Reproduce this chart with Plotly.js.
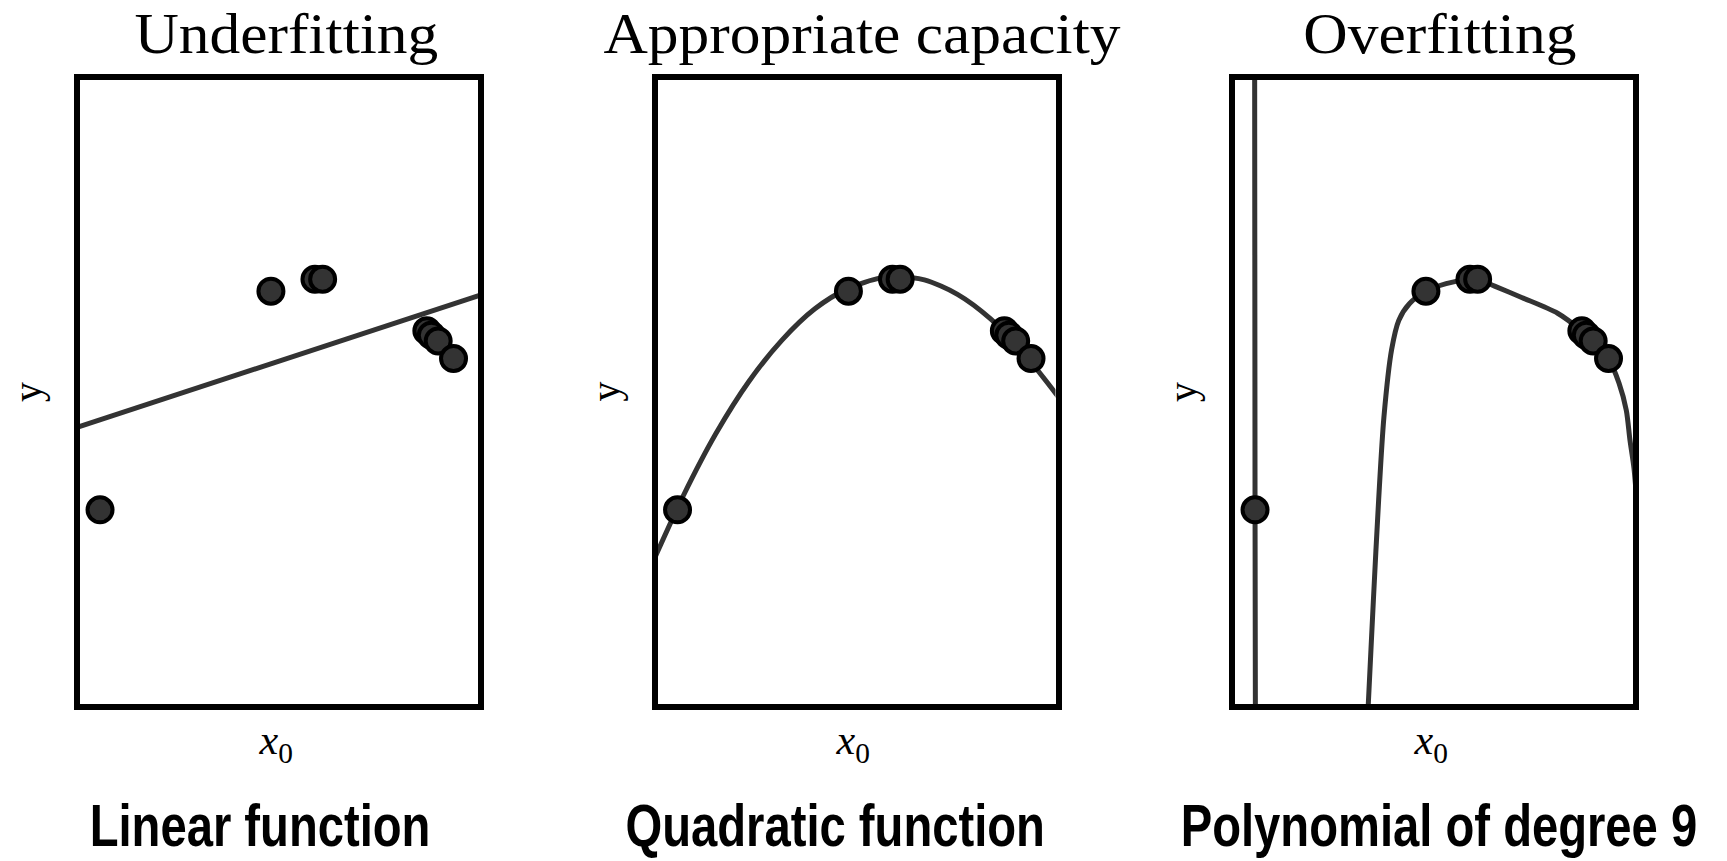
<!DOCTYPE html>
<html>
<head>
<meta charset="utf-8">
<script src="https://cdn.plot.ly/plotly-3.0.1.min.js"></script>
<style>
  html, body { margin: 0; padding: 0; background: #ffffff; }
  #chart { width: 1727px; height: 861px; }
</style>
</head>
<body>
<div id="chart"></div>
<script>
// ---------------- data (normalised units) ----------------
const panelTitles = ["Underfitting", "Appropriate capacity", "Overfitting"];
const panelCaptions = ["Linear function", "Quadratic function", "Polynomial of degree 9"];
const xLabel = "\u200A<i>x</i><sub>0</sub>";
const yLabel = "y";

// training points (same in all three panels)
const pointsX = [0.057, 0.480, 0.589, 0.608, 0.866, 0.877, 0.894, 0.932];
const pointsY = [0.313, 0.660, 0.679, 0.679, 0.597, 0.590, 0.581, 0.553];

// linear fit
const linearX = [0.0, 1.0];
const linearY = [0.444, 0.654];

// quadratic fit
const quadX = [0.0, 0.071, 0.152, 0.234, 0.315, 0.397, 0.478, 0.560, 0.601, 0.668, 0.750, 0.832, 0.913, 1.0];
const quadY = [0.236, 0.335, 0.434, 0.517, 0.582, 0.632, 0.664, 0.681, 0.683, 0.678, 0.655, 0.616, 0.562, 0.492];

// degree-9 polynomial fit: near-vertical branch through the first point
const poly9BranchAX = [0.056, 0.057, 0.058];
const poly9BranchAY = [1.05, 0.313, -0.05];
// second branch rising from the bottom and passing through the other points
const poly9BranchBX = [0.333, 0.337, 0.350, 0.363, 0.376, 0.395, 0.413, 0.439, 0.480, 0.530, 0.589, 0.608, 0.650, 0.717, 0.806, 0.866, 0.894, 0.932, 0.958, 0.976, 0.985, 0.995, 1.005];
const poly9BranchBY = [-0.05, 0.0, 0.170, 0.329, 0.460, 0.567, 0.614, 0.640, 0.660, 0.672, 0.679, 0.679, 0.668, 0.650, 0.625, 0.597, 0.581, 0.553, 0.514, 0.471, 0.424, 0.379, 0.300];

// ---------------- styling ----------------
const W = 1727, H = 861;
const px = v => v / W;          // pixel -> paper x
const py = v => 1 - v / H;      // pixel -> paper y

const curveColor = "#333333";
const curveWidth = 5;
const markerStyle = { size: 25, color: "#333333", line: { color: "#000000", width: 4 } };

// inner plot-area boxes (pixels)
const boxesX = [[80, 478], [657.5, 1055.5], [1235, 1633]];
const boxY = [80, 704];

const traces = [];
function lineTrace(x, y, ax) {
  return { x: x, y: y, xaxis: ax.x, yaxis: ax.y, mode: "lines", type: "scatter",
           line: { color: curveColor, width: curveWidth, shape: "spline", smoothing: 0.8 },
           hoverinfo: "skip", showlegend: false };
}
function pointsTrace(ax) {
  return { x: pointsX, y: pointsY, xaxis: ax.x, yaxis: ax.y, mode: "markers", type: "scatter",
           marker: markerStyle, showlegend: false };
}
const axes = [{ x: "x", y: "y" }, { x: "x2", y: "y2" }, { x: "x3", y: "y3" }];

traces.push(lineTrace(linearX, linearY, axes[0]));
traces.push(pointsTrace(axes[0]));
traces.push(lineTrace(quadX, quadY, axes[1]));
traces.push(pointsTrace(axes[1]));
traces.push(lineTrace(poly9BranchAX, poly9BranchAY, axes[2]));
traces.push(lineTrace(poly9BranchBX, poly9BranchBY, axes[2]));
traces.push(pointsTrace(axes[2]));

const frameAxis = (domain, range) => ({
  domain: domain, range: range, showline: true, mirror: true, linewidth: 6, linecolor: "#000000",
  showgrid: false, zeroline: false, showticklabels: false, ticks: "", fixedrange: true
});

const xRange = [0.0074, 0.9926];
const yRange = [0.005, 0.995];
const yDomain = [py(boxY[1]), py(boxY[0])];

const layout = {
  width: W, height: H, autosize: false,
  margin: { l: 0, r: 0, t: 0, b: 0, pad: 0 },
  paper_bgcolor: "#ffffff", plot_bgcolor: "#ffffff",
  showlegend: false,
  xaxis:  frameAxis([px(boxesX[0][0]), px(boxesX[0][1])], xRange),
  yaxis:  Object.assign(frameAxis(yDomain, yRange), { anchor: "x" }),
  xaxis2: Object.assign(frameAxis([px(boxesX[1][0]), px(boxesX[1][1])], xRange), { anchor: "y2" }),
  yaxis2: Object.assign(frameAxis(yDomain, yRange), { anchor: "x2" }),
  xaxis3: Object.assign(frameAxis([px(boxesX[2][0]), px(boxesX[2][1])], xRange), { anchor: "y3" }),
  yaxis3: Object.assign(frameAxis(yDomain, yRange), { anchor: "x3" }),
  annotations: []
};

const serif = "Liberation Serif, DejaVu Serif, serif";
const captionFont = "Liberation Sans, Arial, Roboto, sans-serif";
const captionSqueeze = 0.80;   // emulate a condensed bold face
const titleStretch = 1.06;     // emulate the wider Computer Modern face
const titleCenters = [286, 862, 1440];
const captionCenters = [260, 835, 1439];
const xLabelCenters = [274, 851.5, 1429];
const yLabelCenters = [27, 604.5, 1182];

for (let i = 0; i < 3; i++) {
  layout.annotations.push({
    text: panelTitles[i], xref: "paper", yref: "paper", x: px(titleCenters[i]), y: py(33),
    xanchor: "center", yanchor: "middle", showarrow: false,
    font: { family: serif, size: 58, color: "#000000" }
  });
  layout.annotations.push({
    text: xLabel, xref: "paper", yref: "paper", x: px(xLabelCenters[i]), y: py(743),
    xanchor: "center", yanchor: "middle", showarrow: false,
    font: { family: serif, size: 42, color: "#000000" }
  });
  layout.annotations.push({
    text: yLabel, xref: "paper", yref: "paper", x: px(yLabelCenters[i]), y: py(392),
    xanchor: "center", yanchor: "middle", showarrow: false, textangle: -90,
    font: { family: serif, size: 40, color: "#000000" }
  });
  layout.annotations.push({
    text: "<b>" + panelCaptions[i] + "</b>", xref: "paper", yref: "paper", x: px(captionCenters[i]), y: py(826),
    xanchor: "center", yanchor: "middle", showarrow: false,
    font: { family: captionFont, size: 59, color: "#000000" }
  });
}

function scaleTextX(t, k) {
  const bb = t.getBBox();
  const cx = bb.x + bb.width / 2;
  t.setAttribute("transform", "translate(" + cx + ",0) scale(" + k + ",1) translate(" + (-cx) + ",0)");
}

Plotly.newPlot("chart", traces, layout, { staticPlot: true, displayModeBar: false }).then(gd => {
  gd.querySelectorAll("text.annotation-text").forEach(t => {
    if (panelCaptions.includes(t.textContent)) scaleTextX(t, captionSqueeze);
    else if (panelTitles.includes(t.textContent)) scaleTextX(t, titleStretch);
  });
  // drop the empty placeholder texts of the untitled axes
  gd.querySelectorAll("svg text").forEach(t => {
    if (t.textContent.trim() === "") t.remove();
  });
});
</script>
</body>
</html>
